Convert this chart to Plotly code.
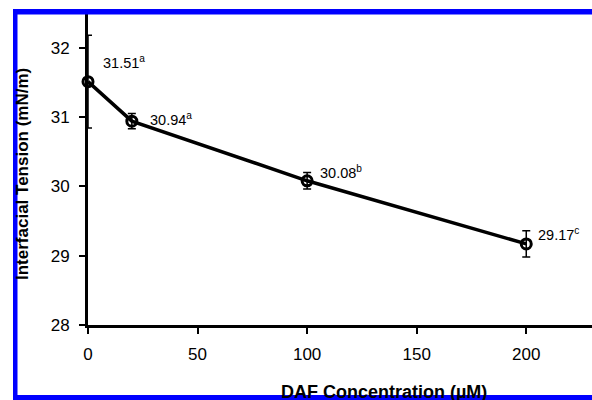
import plotly.graph_objects as go

# ---- data ----
concentration = [0, 20, 100, 200]
tension = [31.51, 30.94, 30.08, 29.17]
tension_err = [0.67, 0.11, 0.12, 0.19]
sig_letters = ["a", "a", "b", "c"]
x_ticks = [0, 50, 100, 150, 200]
y_ticks = [28, 29, 30, 31, 32]

# ---- layout geometry (pixels) ----
W, H = 592, 400
ML, MR, MT, MB = 88, 0, 13, 75
PW, PH = W - ML - MR, H - MT - MB


def fx(px):
    return (px - ML) / PW


def fy(py):
    return (H - MB - py) / PH


FONT = "Liberation Sans, Arial, sans-serif"

fig = go.Figure()
fig.add_trace(go.Scatter(
    x=concentration, y=tension,
    mode="lines+markers",
    line=dict(color="black", width=3.5),
    marker=dict(symbol="circle-open", size=10, color="black",
                line=dict(color="black", width=3)),
    error_y=dict(type="data", array=tension_err, visible=True,
                 color="black", thickness=1.5, width=4),
    showlegend=False, cliponaxis=False, hoverinfo="skip",
))

# value labels with superscript letters
label_offsets = [(13, 20), (16, 2), (11, 9), (10, 10)]
annotations = []
for xv, yv, let, (dx, dy) in zip(concentration, tension, sig_letters, label_offsets):
    annotations.append(dict(
        x=xv, y=yv, xref="x", yref="y",
        text=f"{yv:.2f}<sup>{let}</sup>",
        showarrow=False, xanchor="left", yanchor="middle",
        xshift=dx, yshift=dy,
        font=dict(family=FONT, size=14.5, color="black"),
    ))

# axis titles
annotations.append(dict(
    x=fx(384), y=fy(380), xref="paper", yref="paper",
    text="<b>DAF Concentration (µM)</b>", showarrow=False,
    xanchor="center", yanchor="top",
    font=dict(family=FONT, size=18, color="black"),
))
annotations.append(dict(
    x=fx(23), y=fy(174), xref="paper", yref="paper",
    text="<b>Interfacial Tension (mN/m)</b>", showarrow=False,
    textangle=-90, xanchor="center", yanchor="middle",
    font=dict(family=FONT, size=17, color="black"),
))

blue = "#0000FF"
shapes = [
    dict(type="rect", xref="paper", yref="paper", layer="above",
         x0=fx(13), x1=fx(600), y0=fy(14.5), y1=fy(9),
         fillcolor=blue, line=dict(width=0)),
    dict(type="rect", xref="paper", yref="paper", layer="above",
         x0=fx(13), x1=fx(17.5), y0=fy(405), y1=fy(9),
         fillcolor=blue, line=dict(width=0)),
    dict(type="rect", xref="paper", yref="paper", layer="above",
         x0=fx(13), x1=fx(600), y0=fy(405), y1=fy(395),
         fillcolor=blue, line=dict(width=0)),
]

fig.update_layout(
    width=W, height=H,
    margin=dict(l=ML, r=MR, t=MT, b=MB, pad=0),
    paper_bgcolor="white", plot_bgcolor="white",
    font=dict(family=FONT, size=17, color="black"),
    annotations=annotations, shapes=shapes,
    xaxis=dict(range=[0, 230], tickvals=x_ticks, showgrid=False, zeroline=False,
               showline=True, linewidth=3, linecolor="black",
               ticks="outside", ticklen=6, tickwidth=2, tickcolor="black",
               ticklabelstandoff=6,
               tickfont=dict(family=FONT, size=17, color="black")),
    yaxis=dict(range=[28, 32.5], tickvals=y_ticks, showgrid=False, zeroline=False,
               showline=True, linewidth=3, linecolor="black",
               ticks="outside", ticklen=6, tickwidth=2, tickcolor="black",
               ticklabelstandoff=6,
               tickfont=dict(family=FONT, size=17, color="black")),
)

fig.write_html(
    "out.html",
    config={"displayModeBar": False},
    post_script="document.body.style.margin='0';document.body.style.overflow='hidden';",
)
